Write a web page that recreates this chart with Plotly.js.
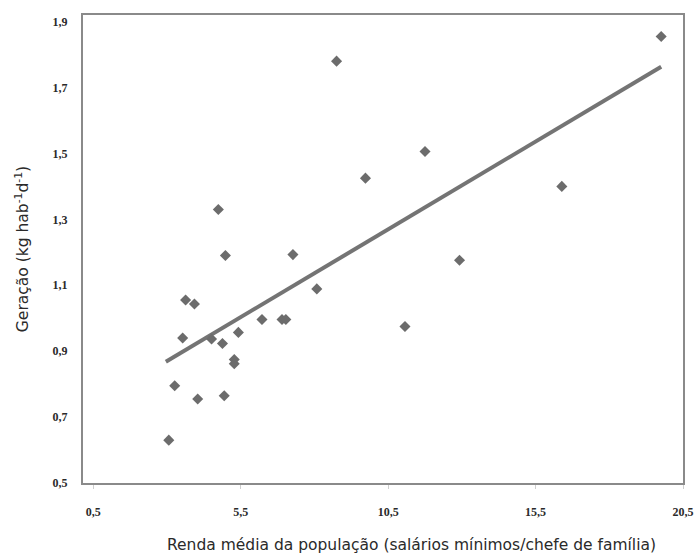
<!DOCTYPE html>
<html>
<head>
<meta charset="utf-8">
<script src="https://cdn.plot.ly/plotly-3.0.1.min.js"></script>
<style>html,body{margin:0;padding:0;background:#fff;}#chart{width:697px;height:559px;}</style>
</head>
<body>
<div id="chart"></div>
<script>
// Renda média (salários mínimos/chefe de família)
var renda = [3.06, 3.26, 3.53, 3.63, 3.93, 4.04, 4.51, 4.88, 4.94, 4.74, 4.98, 5.28, 5.28, 5.42,
             6.22, 6.90, 7.03, 7.27, 8.08, 8.75, 9.73, 11.07, 11.75, 12.92, 16.39, 19.76];
// Geração (kg hab-1 d-1)
var geracao = [0.63, 0.795, 0.94, 1.055, 1.043, 0.755, 0.937, 0.923, 0.765, 1.33, 1.19, 0.875, 0.862, 0.957,
               0.996, 0.996, 0.996, 1.193, 1.089, 1.78, 1.425, 0.975, 1.506, 1.176, 1.40, 1.855];
// Reta de regressão (extremos)
var retaX = [2.96, 19.76];
var retaY = [0.868, 1.763];

var xTicks = [0.5, 5.5, 10.5, 15.5, 20.5];
var yTicks = [0.5, 0.7, 0.9, 1.1, 1.3, 1.5, 1.7, 1.9];

var traces = [
  {x: retaX, y: retaY, type: 'scatter', mode: 'lines',
   line: {color: '#747474', width: 4}, hoverinfo: 'skip', showlegend: false},
  {x: renda, y: geracao, type: 'scatter', mode: 'markers',
   marker: {symbol: 'diamond', size: 8.5, color: '#6c6c6c'}, showlegend: false}
];

var tickFont = {family: 'Liberation Serif, Times New Roman, serif', size: 12, color: '#2a2a2a', weight: 'bold'};
var titleFont = {family: 'DejaVu Sans, Verdana, sans-serif', size: 15.5, color: '#2a2a2a'};
var layout = {
  width: 697, height: 559,
  margin: {l: 83, r: 14, t: 15, b: 76},
  paper_bgcolor: '#fff', plot_bgcolor: '#fff',
  separators: ',.',
  showlegend: false,
  xaxis: {
    range: [0.15, 20.5], tickvals: xTicks, tickformat: '.1f',
    showgrid: false, zeroline: false,
    showline: true, linecolor: '#8a8a8a', linewidth: 2, mirror: true,
    ticks: 'outside', ticklen: 4, tickcolor: '#cfcfcf', tickwidth: 1,
    ticklabelstandoff: 13,
    tickfont: tickFont
  },
  yaxis: {
    range: [0.5, 1.92], tickvals: yTicks, tickformat: '.1f',
    showgrid: false, zeroline: false,
    showline: true, linecolor: '#8a8a8a', linewidth: 2, mirror: true,
    ticks: '', ticklabelstandoff: 11,
    tickfont: tickFont,
    title: {text: 'Geração (kg hab<sup>-1</sup>d<sup>-1</sup>)', font: titleFont, standoff: 20}
  },
  annotations: [{
    text: 'Renda média da população (salários mínimos/chefe de família)',
    xref: 'paper', yref: 'paper', x: 0.547, y: 0, yshift: -62,
    xanchor: 'center', yanchor: 'middle', showarrow: false, font: titleFont
  }]
};

Plotly.newPlot('chart', traces, layout, {displayModeBar: false, staticPlot: true});
</script>
</body>
</html>
